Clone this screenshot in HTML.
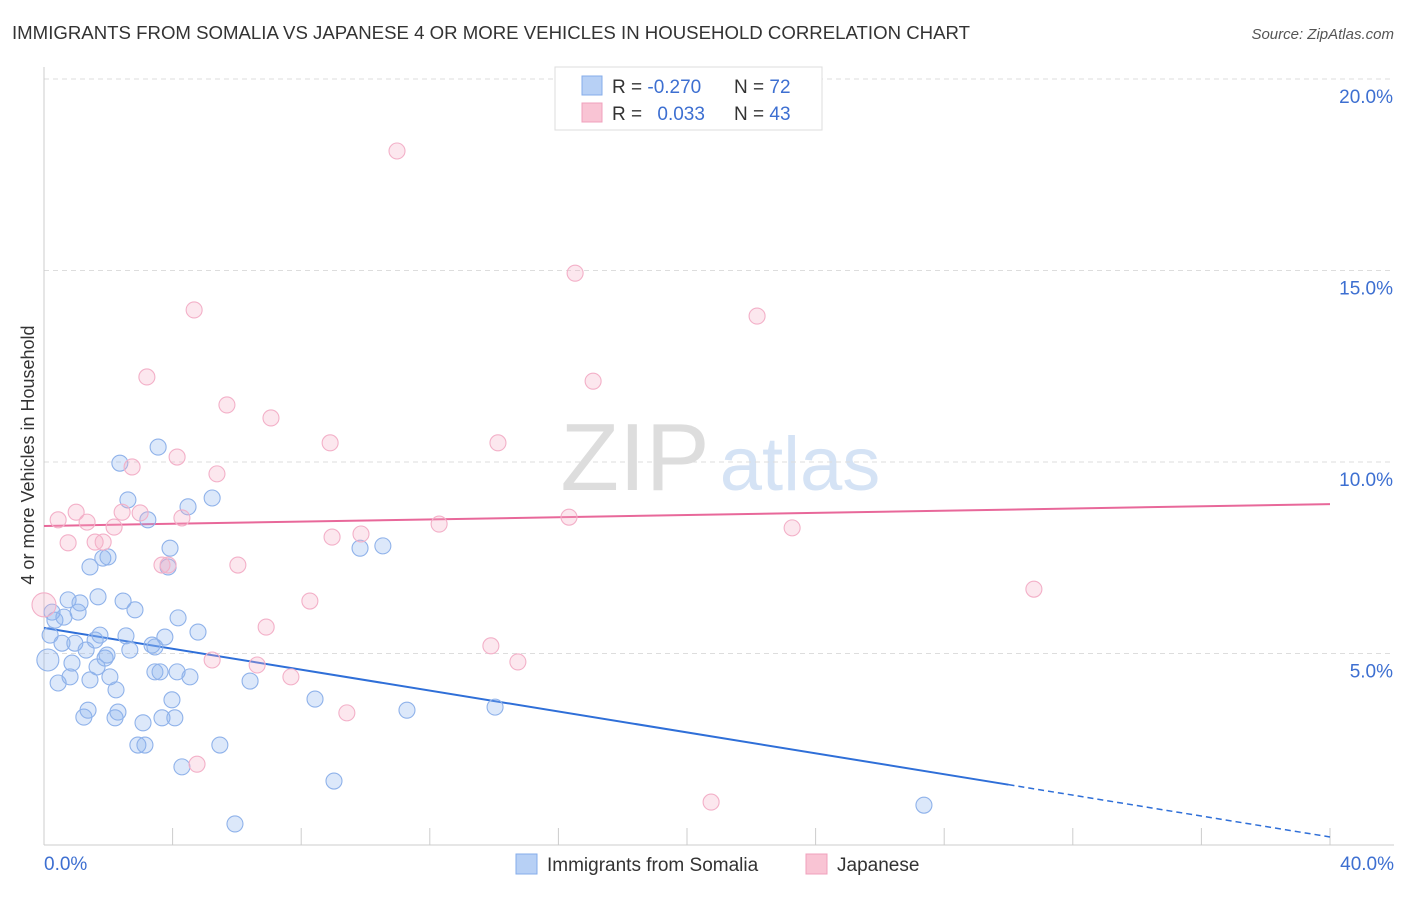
<!DOCTYPE html>
<html><head><meta charset="utf-8"><style>
body{margin:0;background:#fff;font-family:"Liberation Sans",sans-serif;}
svg text{font-family:"Liberation Sans",sans-serif;}
</style></head><body>
<svg id="chart" width="1406" height="892" xmlns="http://www.w3.org/2000/svg">
<text x="12" y="39" font-size="18.5" fill="#333" textLength="958" lengthAdjust="spacingAndGlyphs">IMMIGRANTS FROM SOMALIA VS JAPANESE 4 OR MORE VEHICLES IN HOUSEHOLD CORRELATION CHART</text>
<text x="1394" y="39" font-size="15" fill="#555" text-anchor="end" font-style="italic">Source: ZipAtlas.com</text>
<text x="0" y="0" transform="translate(34,455) rotate(-90)" font-size="18" fill="#333" text-anchor="middle">4 or more Vehicles in Household</text>
<g>
<text x="635" y="490" font-size="96" fill="#ddd" text-anchor="middle" font-family="Liberation Serif">ZIP</text>
<text x="800" y="490" font-size="76" fill="#d5e3f5" text-anchor="middle">atlas</text>
</g>
<g id="grid"></g><g id="axes"></g><g id="lines"></g><g id="pts"></g>
<g>
<rect x="555" y="67" width="267" height="63" fill="#fff" stroke="#ddd"/>
<rect x="582" y="76" width="20" height="19" fill="#b7d0f5" stroke="#86acea"/>
<rect x="582" y="103" width="20" height="19" fill="#f9c4d4" stroke="#f0a0bc"/>
<text x="612" y="93" font-size="19" fill="#333">R = <tspan fill="#3d6fd1">-0.270</tspan></text>
<text x="734" y="93" font-size="19" fill="#333">N = <tspan fill="#3d6fd1">72</tspan></text>
<text x="612" y="120" font-size="19" fill="#333">R = <tspan fill="#3d6fd1" dx="10">0.033</tspan></text>
<text x="734" y="120" font-size="19" fill="#333">N = <tspan fill="#3d6fd1">43</tspan></text>
</g>
<g>
<rect x="516" y="854" width="21" height="20" fill="#b7d0f5" stroke="#86acea"/>
<text x="547" y="871" font-size="19" fill="#333">Immigrants from Somalia</text>
<rect x="806" y="854" width="21" height="20" fill="#f9c4d4" stroke="#f0a0bc"/>
<text x="837" y="871" font-size="19" fill="#333">Japanese</text>
</g>
</svg>
<script>
const yTicks=[5,10,15,20];
const yTickLabels=["5.0%","10.0%","15.0%","20.0%"];
const xTickLabels=["0.0%","40.0%"];
const blueX=[0.12,0.19,0.25,0.34,0.44,0.56,0.62,0.75,0.81,0.87,0.96,1.06,1.12,1.24,1.31,1.37,1.43,1.43,1.59,1.65,1.68,1.74,1.83,1.90,1.96,1.99,2.05,2.21,2.24,2.30,2.36,2.46,2.55,2.61,2.67,2.83,2.92,3.08,3.14,3.23,3.36,3.45,3.45,3.55,3.61,3.67,3.76,3.86,3.92,3.98,4.07,4.14,4.17,4.29,4.48,4.54,4.79,5.23,5.47,5.94,6.41,8.43,9.02,9.83,10.54,11.29,14.03,27.37];
const blueY=[4.83,5.48,6.08,5.87,4.23,5.27,5.95,6.40,4.39,4.75,5.27,6.08,6.32,3.34,5.09,3.52,4.31,7.26,5.35,4.65,6.48,5.48,7.49,4.88,4.96,7.52,4.39,3.32,4.05,3.47,9.97,6.37,5.46,9.01,5.09,6.14,2.61,3.19,2.61,8.49,5.22,4.52,5.17,10.39,4.52,3.32,5.43,7.26,7.75,3.79,3.32,4.52,5.93,2.04,8.83,4.39,5.56,9.06,2.61,0.55,4.28,3.81,1.67,7.75,7.81,3.52,3.60,1.04];
const pinkX=[0,0.44,0.75,1.00,1.34,1.59,1.84,2.18,2.43,2.74,2.99,3.20,3.67,3.86,4.14,4.29,4.67,5.23,5.38,5.69,6.03,6.63,6.91,7.06,7.68,8.27,8.90,8.96,9.42,9.86,10.98,12.29,13.90,14.12,14.74,16.33,16.52,17.08,20.75,22.18,23.27,30.79,4.76];
const pinkY=[6.27,8.49,7.89,8.69,8.43,7.91,7.91,8.30,8.69,9.87,8.67,12.22,7.31,7.31,10.13,8.54,13.97,4.83,9.69,11.49,7.31,4.70,5.69,11.15,4.39,6.37,10.50,8.04,3.45,8.12,18.12,8.38,5.20,10.50,4.78,8.56,14.93,12.11,1.12,13.81,8.28,6.68,2.11];
const blueTrend=[5.67,0.21];
const pinkTrend=[8.33,8.9];
const X=v=>44+v*32.15, Y=v=>845-v*38.3;
const NS="http://www.w3.org/2000/svg";
function mk(t,a,p){const e=document.createElementNS(NS,t);for(const k in a)e.setAttribute(k,a[k]);p.appendChild(e);return e;}
const grid=document.getElementById('grid'),axes=document.getElementById('axes'),lines=document.getElementById('lines'),pts=document.getElementById('pts');
yTicks.forEach((t,i)=>{
const g=mk('line',{x1:44,x2:1394,y1:Y(t),y2:Y(t),stroke:'#ddd','stroke-dasharray':'5,4'},grid);


const tx=mk('text',{x:1393,y:Y(t)+24,'font-size':19,fill:'#3d6fd1','text-anchor':'end'},axes);
tx.textContent=yTickLabels[i];


});
const ax=mk('line',{x1:44,x2:1394,y1:845,y2:845,stroke:'#ccc'},axes);


const ay=mk('line',{x1:44,x2:44,y1:67,y2:845,stroke:'#ccc'},axes);


for(let i=0;i<=10;i++){const t=mk('line',{x1:X(i*4),x2:X(i*4),y1:828,y2:845,stroke:'#ccc'},axes);

}
[[0,'start',44],[40,'end',1394]].forEach((d,i)=>{const t=mk('text',{x:d[2],y:870,'font-size':19,fill:'#3d6fd1','text-anchor':d[1]},axes);t.textContent=xTickLabels[i];

});
function yAt(tr,x){return tr[0]+(tr[1]-tr[0])*x/40;}
const b1=mk('line',{x1:X(0),y1:Y(yAt(blueTrend,0)),x2:X(30),y2:Y(yAt(blueTrend,30)),stroke:'#2f6fd8','stroke-width':2},lines);


const b2=mk('line',{x1:X(30),y1:Y(yAt(blueTrend,30)),x2:X(40),y2:Y(yAt(blueTrend,40)),stroke:'#2f6fd8','stroke-width':1.5,'stroke-dasharray':'6,4'},lines);


const p1=mk('line',{x1:X(0),y1:Y(yAt(pinkTrend,0)),x2:X(40),y2:Y(yAt(pinkTrend,40)),stroke:'#e8689a','stroke-width':2},lines);


blueX.forEach((x,i)=>{const c=mk('circle',{cx:X(x),cy:Y(blueY[i]),r:i==0?11:8,fill:'rgba(140,178,238,0.3)',stroke:'#8fb2ea','stroke-width':1.1},pts);

});
pinkX.forEach((x,i)=>{const c=mk('circle',{cx:X(x),cy:Y(pinkY[i]),r:i==0?12:8,fill:'rgba(246,175,200,0.3)',stroke:'#f3b0c8','stroke-width':1.1},pts);

});
</script>
</body></html>
